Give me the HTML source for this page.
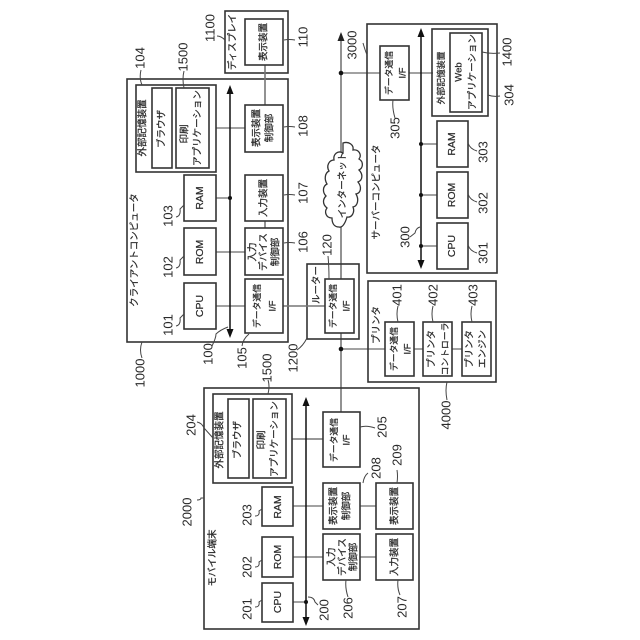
<!DOCTYPE html>
<html><head><meta charset="utf-8"><style>
html,body{margin:0;padding:0;background:#fff}
svg{display:block}
text{font-family:"Liberation Sans","Noto Sans CJK JP",sans-serif;fill:#2a2a2a;text-anchor:middle;dominant-baseline:central}
.n{font-size:13px}.j{font-size:9.5px;stroke:#2a2a2a;stroke-width:.25}.l{font-size:10.5px;stroke:#2a2a2a;stroke-width:.2}
.d{font-size:8.8px;stroke:#2a2a2a;stroke-width:.25}
.b{fill:#fff;stroke:#333;stroke-width:1.6}
.o{fill:none;stroke:#333;stroke-width:1.6}
.g{fill:none;stroke:#777;stroke-width:1.6}
.t{fill:none;stroke:#444;stroke-width:1}
.k{fill:none;stroke:#111;stroke-width:1.5}
</style></head><body>
<svg width="640" height="640" viewBox="0 0 640 640" xmlns="http://www.w3.org/2000/svg">
<rect width="640" height="640" fill="#fff"/>
<!-- network lines -->
<path class="g" d="M341 40V412"/>
<path d="M341 32l-3.5 9h7z" fill="#222"/>
<path class="t" d="M341 73H433M341 349H462M414 349H423M452 349H462"/>
<circle cx="341" cy="73" r="2.3" fill="#111"/><circle cx="341" cy="349" r="2.3" fill="#111"/>
<!-- outer boxes -->
<rect class="o" x="127" y="79" width="161" height="263"/>
<rect class="o" x="225" y="11" width="63" height="62"/>
<rect class="o" x="307" y="264" width="52" height="75"/>
<rect class="o" x="367" y="24" width="130" height="249"/>
<rect class="o" x="368" y="281" width="128" height="101"/>
<rect class="o" x="204" y="388" width="215" height="241"/>
<!-- client connectors -->
<path class="g" d="M265 65V105M265 221V228"/>
<path class="t" d="M216 128H245M216 198H230M216 252H245M216 306H245"/>
<path class="g" d="M283 306H325"/>
<path class="k" d="M230 92V332"/>
<path d="M230 85l-3.5 9h7zM230 338l-3.5-9h7z" fill="#111"/>
<circle cx="230" cy="198" r="2" fill="#111"/>
<!-- client boxes -->
<rect class="o" x="136" y="85" width="80" height="87"/>
<rect class="b" x="152" y="88" width="20" height="80"/>
<rect class="b" x="176" y="88" width="33" height="80"/>
<rect class="b" x="184" y="175" width="32" height="46"/>
<rect class="b" x="184" y="228" width="32" height="47"/>
<rect class="b" x="184" y="283" width="32" height="46"/>
<rect class="b" x="245" y="105" width="38" height="47"/>
<rect class="b" x="245" y="175" width="38" height="46"/>
<rect class="b" x="245" y="228" width="38" height="47"/>
<rect class="b" x="245" y="279" width="38" height="54"/>
<rect class="b" x="245" y="19" width="38" height="46"/>
<rect class="b" x="325" y="279" width="29" height="54"/>
<!-- cloud -->
<path d="M343 143c6 -2 11 2 10 7c6 -1 9 5 6 9c5 3 4 9 0 11c4 4 4 10 -1 12c4 5 3 11 -2 12c3 5 2 12 -3 13c2 5 -1 11 -6 10c-2 7 -5 11 -8 10c-5 0 -7 -4 -7 -9c-6 0 -8 -6 -5 -10c-5 -4 -4 -9 -1 -12c-4 -4 -3 -10 1 -12c-3 -5 -2 -11 2 -13c-3 -5 0 -11 5 -11c-1 -6 4 -10 9 -7z" fill="#fff" stroke="#333" stroke-width="1.3"/>
<!-- server -->
<path class="t" d="M421 144H437M421 195H437M421 246H437"/>
<path class="k" d="M421 35V262"/>
<path d="M421 28l-3.5 9h7zM421 269l-3.5-9h7z" fill="#111"/>
<circle cx="421" cy="144" r="2" fill="#111"/><circle cx="421" cy="195" r="2" fill="#111"/><circle cx="421" cy="246" r="2" fill="#111"/>
<rect class="b" x="380" y="46" width="29" height="54"/>
<rect class="o" x="432" y="29" width="56" height="87"/>
<rect class="b" x="450" y="33" width="32" height="79"/>
<rect class="b" x="437" y="121" width="31" height="46"/>
<rect class="b" x="437" y="172" width="31" height="46"/>
<rect class="b" x="437" y="223" width="31" height="46"/>
<!-- printer -->
<rect class="b" x="385" y="322" width="29" height="54"/>
<rect class="b" x="423" y="322" width="29" height="54"/>
<rect class="b" x="462" y="322" width="29" height="54"/>
<!-- mobile -->
<path class="g" d="M292 439H323"/>
<path class="t" d="M293 506H376M293 557H376M293 602H306"/>
<path class="k" d="M306 404V619"/>
<path d="M306 397l-3.5 9h7zM306 626l-3.5-9h7z" fill="#111"/>
<circle cx="306" cy="602" r="2" fill="#111"/>
<rect class="o" x="213" y="394" width="79" height="89"/>
<rect class="b" x="228" y="399" width="21" height="79"/>
<rect class="b" x="253" y="399" width="33" height="79"/>
<rect class="b" x="262" y="487" width="31" height="39"/>
<rect class="b" x="262" y="537" width="31" height="40"/>
<rect class="b" x="262" y="583" width="31" height="39"/>
<rect class="b" x="323" y="412" width="37" height="55"/>
<rect class="b" x="323" y="483" width="37" height="46"/>
<rect class="b" x="323" y="534" width="37" height="46"/>
<rect class="b" x="376" y="483" width="37" height="46"/>
<rect class="b" x="376" y="534" width="37" height="46"/>
<!-- leaders -->
<path class="t" d="M217 36q4 0 8 4M141 70q-2 8 1 15M184 71q-2 8 0 17M284 40q5 -1 11 0M284 127q5 -1 11 0M284 195q5 -1 11 0M284 243q5 -1 11 0M328 256q1 10 1 23M297 350q6 -4 10 -12M242 346q1 -7 7 -12M212 346q4 -8 4 -12q4 -4 12 -7M142 358q-3 -8 0 -16M268 380q2 6 0 14M176 326q5 -1 4 -8l4 -4M176 268q5 -1 4 -8l4 -4M176 217q5 -1 4 -8l4 -4M363 43q2 7 4 12M482 52q8 2 18 1M488 95q5 2 12 1M393 100q-1 8 2 18M468 143q2 6 9 8M468 194q2 6 9 8M468 245q2 6 9 8M420 227q-4 1 -5 6l-5 4M398 322q-2 -8 0 -16M433 322q-2 -8 0 -16M472 322q-2 -8 0 -16M447 382q-2 8 0 18M360 427q7 -2 15 1M197 422q5 1 7 6l9 10M197 500q4 0 4 -2h3M363 483q1 -7 5 -10M397 470q1 6 0 13M346 580q-1 8 2 17M398 580q-1 8 2 15M255 607q5 0 4 -5l3 -2M255 567q5 0 4 -5l3 -2M255 516q5 0 4 -5l3 -2M308 597q6 0 7 5l3 3"/>
<!-- numbers -->
<text class="n" transform="translate(210,28) rotate(-90)">1100</text>
<text class="n" transform="translate(140,58) rotate(-90)">104</text>
<text class="n" transform="translate(183,57) rotate(-90)">1500</text>
<text class="n" transform="translate(303,37) rotate(-90)">110</text>
<text class="n" transform="translate(303,126) rotate(-90)">108</text>
<text class="n" transform="translate(303,193) rotate(-90)">107</text>
<text class="n" transform="translate(303,242) rotate(-90)">106</text>
<text class="n" transform="translate(327,245) rotate(-90)">120</text>
<text class="n" transform="translate(293,358) rotate(-90)">1200</text>
<text class="n" transform="translate(242,358) rotate(-90)">105</text>
<text class="n" transform="translate(208,354) rotate(-90)">100</text>
<text class="n" transform="translate(140,373) rotate(-90)">1000</text>
<text class="n" transform="translate(267,368) rotate(-90)">1500</text>
<text class="n" transform="translate(168,325) rotate(-90)">101</text>
<text class="n" transform="translate(168,267) rotate(-90)">102</text>
<text class="n" transform="translate(168,216) rotate(-90)">103</text>
<text class="n" transform="translate(352,45) rotate(-90)">3000</text>
<text class="n" transform="translate(507,52) rotate(-90)">1400</text>
<text class="n" transform="translate(509,95) rotate(-90)">304</text>
<text class="n" transform="translate(395,128) rotate(-90)">305</text>
<text class="n" transform="translate(483,152) rotate(-90)">303</text>
<text class="n" transform="translate(483,203) rotate(-90)">302</text>
<text class="n" transform="translate(483,253) rotate(-90)">301</text>
<text class="n" transform="translate(405,237) rotate(-90)">300</text>
<text class="n" transform="translate(397,295) rotate(-90)">401</text>
<text class="n" transform="translate(433,295) rotate(-90)">402</text>
<text class="n" transform="translate(473,295) rotate(-90)">403</text>
<text class="n" transform="translate(446,415) rotate(-90)">4000</text>
<text class="n" transform="translate(382,427) rotate(-90)">205</text>
<text class="n" transform="translate(191,425) rotate(-90)">204</text>
<text class="n" transform="translate(187,512) rotate(-90)">2000</text>
<text class="n" transform="translate(376,468) rotate(-90)">208</text>
<text class="n" transform="translate(397,455) rotate(-90)">209</text>
<text class="n" transform="translate(348,608) rotate(-90)">206</text>
<text class="n" transform="translate(402,607) rotate(-90)">207</text>
<text class="n" transform="translate(247,609) rotate(-90)">201</text>
<text class="n" transform="translate(247,567) rotate(-90)">202</text>
<text class="n" transform="translate(247,515) rotate(-90)">203</text>
<text class="n" transform="translate(324,610) rotate(-90)">200</text>
<!-- client labels -->
<text class="j" transform="translate(135,250) rotate(-90)">クライアントコンピュータ</text>
<text class="j" transform="translate(143,128) rotate(-90)">外部記憶装置</text>
<text class="j" transform="translate(162,129) rotate(-90)">ブラウザ</text>
<text class="j" transform="translate(185,134) rotate(-90)">印刷</text>
<text class="j" transform="translate(198,128) rotate(-90)">アプリケーション</text>
<text class="j" transform="translate(264,42) rotate(-90)">表示装置</text>
<text class="j" transform="translate(233,42) rotate(-90)">ディスプレイ</text>
<text class="j" transform="translate(257,128) rotate(-90)">表示装置</text>
<text class="j" transform="translate(270,128) rotate(-90)">制御部</text>
<text class="j" transform="translate(264,198) rotate(-90)">入力装置</text>
<text class="j" transform="translate(253,252) rotate(-90)">入力</text>
<text class="j" transform="translate(264,252) rotate(-90)">デバイス</text>
<text class="j" transform="translate(276,252) rotate(-90)">制御部</text>
<text class="d" transform="translate(257,306) rotate(-90)">データ通信</text>
<text class="j" transform="translate(273,306) rotate(-90)">I/F</text>
<text class="l" transform="translate(200,198) rotate(-90)">RAM</text>
<text class="l" transform="translate(200,252) rotate(-90)">ROM</text>
<text class="l" transform="translate(200,306) rotate(-90)">CPU</text>
<text class="j" transform="translate(317,285) rotate(-90)">ルーター</text>
<text class="d" transform="translate(333,306) rotate(-90)">データ通信</text>
<text class="j" transform="translate(347,306) rotate(-90)">I/F</text>
<text class="j" transform="translate(343,185) rotate(-90)">インターネット</text>
<!-- server labels -->
<text class="j" transform="translate(377,192) rotate(-90)">サーバーコンピュータ</text>
<text class="d" transform="translate(389,73) rotate(-90)">データ通信</text>
<text class="j" transform="translate(403,73) rotate(-90)">I/F</text>
<text class="d" transform="translate(441,78) rotate(-90)">外部記憶装置</text>
<text class="j" transform="translate(459,72) rotate(-90)">Web</text>
<text class="j" transform="translate(473,72) rotate(-90)">アプリケーション</text>
<text class="l" transform="translate(452,144) rotate(-90)">RAM</text>
<text class="l" transform="translate(452,195) rotate(-90)">ROM</text>
<text class="l" transform="translate(452,246) rotate(-90)">CPU</text>
<!-- printer labels -->
<text class="j" transform="translate(377,325) rotate(-90)">プリンタ</text>
<text class="d" transform="translate(394,349) rotate(-90)">データ通信</text>
<text class="j" transform="translate(408,349) rotate(-90)">I/F</text>
<text class="j" transform="translate(432,349) rotate(-90)">プリンタ</text>
<text class="d" transform="translate(445,349) rotate(-90)">コントローラ</text>
<text class="j" transform="translate(470,349) rotate(-90)">プリンタ</text>
<text class="j" transform="translate(483,349) rotate(-90)">エンジン</text>
<!-- mobile labels -->
<text class="j" transform="translate(213,558) rotate(-90)">モバイル端末</text>
<text class="j" transform="translate(220,440) rotate(-90)">外部記憶装置</text>
<text class="j" transform="translate(238,440) rotate(-90)">ブラウザ</text>
<text class="j" transform="translate(262,440) rotate(-90)">印刷</text>
<text class="j" transform="translate(275,439) rotate(-90)">アプリケーション</text>
<text class="d" transform="translate(334,440) rotate(-90)">データ通信</text>
<text class="j" transform="translate(347,440) rotate(-90)">I/F</text>
<text class="j" transform="translate(334,506) rotate(-90)">表示装置</text>
<text class="j" transform="translate(347,506) rotate(-90)">制御部</text>
<text class="j" transform="translate(395,506) rotate(-90)">表示装置</text>
<text class="j" transform="translate(332,557) rotate(-90)">入力</text>
<text class="j" transform="translate(343,557) rotate(-90)">デバイス</text>
<text class="j" transform="translate(354,557) rotate(-90)">制御部</text>
<text class="j" transform="translate(395,557) rotate(-90)">入力装置</text>
<text class="l" transform="translate(278,507) rotate(-90)">RAM</text>
<text class="l" transform="translate(278,557) rotate(-90)">ROM</text>
<text class="l" transform="translate(278,602) rotate(-90)">CPU</text>
</svg>
</body></html>
